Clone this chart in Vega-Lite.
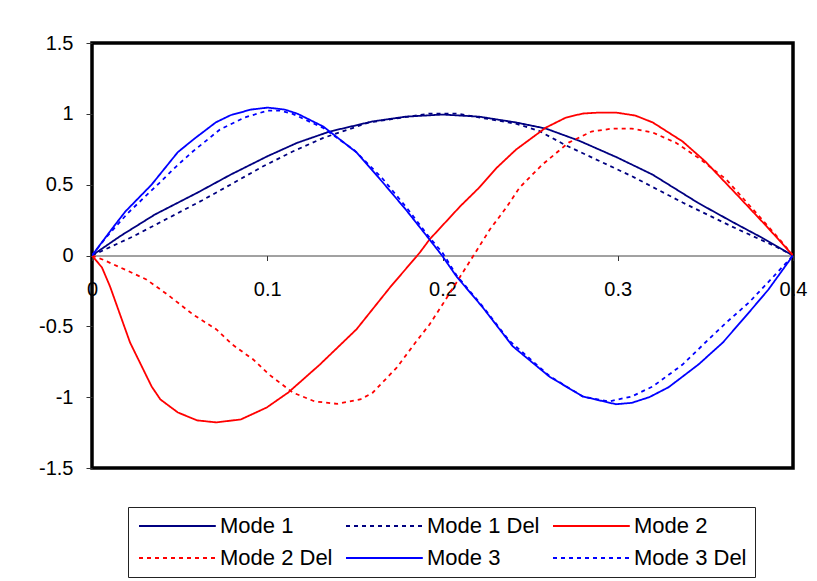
{
  "$schema": "https://vega.github.io/schema/vega-lite/v6.json",
  "autosize": "none",
  "width": 701,
  "height": 425,
  "padding": {"left": 92, "top": 43, "right": 24, "bottom": 113},
  "background": "white",
  "data": {
    "values": [
      {"x": 0, "y": 0, "s": "Mode 1"},
      {"x": 0.0165, "y": 0.14, "s": "Mode 1"},
      {"x": 0.036, "y": 0.29, "s": "Mode 1"},
      {"x": 0.0604, "y": 0.445, "s": "Mode 1"},
      {"x": 0.079, "y": 0.57, "s": "Mode 1"},
      {"x": 0.1, "y": 0.7, "s": "Mode 1"},
      {"x": 0.117, "y": 0.795, "s": "Mode 1"},
      {"x": 0.1356, "y": 0.875, "s": "Mode 1"},
      {"x": 0.16, "y": 0.946, "s": "Mode 1"},
      {"x": 0.179, "y": 0.98, "s": "Mode 1"},
      {"x": 0.2, "y": 0.995, "s": "Mode 1"},
      {"x": 0.221, "y": 0.98, "s": "Mode 1"},
      {"x": 0.242, "y": 0.939, "s": "Mode 1"},
      {"x": 0.259, "y": 0.896, "s": "Mode 1"},
      {"x": 0.278, "y": 0.81, "s": "Mode 1"},
      {"x": 0.3, "y": 0.69, "s": "Mode 1"},
      {"x": 0.32, "y": 0.57, "s": "Mode 1"},
      {"x": 0.346, "y": 0.37, "s": "Mode 1"},
      {"x": 0.365, "y": 0.24, "s": "Mode 1"},
      {"x": 0.381, "y": 0.134, "s": "Mode 1"},
      {"x": 0.4, "y": 0, "s": "Mode 1"},

      {"x": 0, "y": 0, "s": "Mode 1 Del"},
      {"x": 0.011, "y": 0.063, "s": "Mode 1 Del"},
      {"x": 0.0234, "y": 0.134, "s": "Mode 1 Del"},
      {"x": 0.063, "y": 0.39, "s": "Mode 1 Del"},
      {"x": 0.079, "y": 0.5, "s": "Mode 1 Del"},
      {"x": 0.0974, "y": 0.628, "s": "Mode 1 Del"},
      {"x": 0.1145, "y": 0.734, "s": "Mode 1 Del"},
      {"x": 0.132, "y": 0.83, "s": "Mode 1 Del"},
      {"x": 0.158, "y": 0.939, "s": "Mode 1 Del"},
      {"x": 0.1926, "y": 1.002, "s": "Mode 1 Del"},
      {"x": 0.208, "y": 1.002, "s": "Mode 1 Del"},
      {"x": 0.242, "y": 0.93, "s": "Mode 1 Del"},
      {"x": 0.255, "y": 0.88, "s": "Mode 1 Del"},
      {"x": 0.27, "y": 0.78, "s": "Mode 1 Del"},
      {"x": 0.308, "y": 0.56, "s": "Mode 1 Del"},
      {"x": 0.337, "y": 0.374, "s": "Mode 1 Del"},
      {"x": 0.365, "y": 0.205, "s": "Mode 1 Del"},
      {"x": 0.39, "y": 0.064, "s": "Mode 1 Del"},
      {"x": 0.4, "y": 0, "s": "Mode 1 Del"},

      {"x": 0, "y": 0, "s": "Mode 2"},
      {"x": 0.0057, "y": -0.085, "s": "Mode 2"},
      {"x": 0.0103, "y": -0.219, "s": "Mode 2"},
      {"x": 0.0217, "y": -0.614, "s": "Mode 2"},
      {"x": 0.034, "y": -0.924, "s": "Mode 2"},
      {"x": 0.039, "y": -1.016, "s": "Mode 2"},
      {"x": 0.049, "y": -1.108, "s": "Mode 2"},
      {"x": 0.06, "y": -1.164, "s": "Mode 2"},
      {"x": 0.0655, "y": -1.171, "s": "Mode 2"},
      {"x": 0.071, "y": -1.178, "s": "Mode 2"},
      {"x": 0.085, "y": -1.157, "s": "Mode 2"},
      {"x": 0.0997, "y": -1.073, "s": "Mode 2"},
      {"x": 0.112, "y": -0.967, "s": "Mode 2"},
      {"x": 0.13, "y": -0.77, "s": "Mode 2"},
      {"x": 0.151, "y": -0.52, "s": "Mode 2"},
      {"x": 0.17, "y": -0.226, "s": "Mode 2"},
      {"x": 0.187, "y": 0.02, "s": "Mode 2"},
      {"x": 0.1926, "y": 0.113, "s": "Mode 2"},
      {"x": 0.21, "y": 0.346, "s": "Mode 2"},
      {"x": 0.221, "y": 0.48, "s": "Mode 2"},
      {"x": 0.231, "y": 0.62, "s": "Mode 2"},
      {"x": 0.242, "y": 0.748, "s": "Mode 2"},
      {"x": 0.259, "y": 0.903, "s": "Mode 2"},
      {"x": 0.2705, "y": 0.974, "s": "Mode 2"},
      {"x": 0.28, "y": 1.002, "s": "Mode 2"},
      {"x": 0.2895, "y": 1.009, "s": "Mode 2"},
      {"x": 0.299, "y": 1.009, "s": "Mode 2"},
      {"x": 0.31, "y": 0.988, "s": "Mode 2"},
      {"x": 0.32, "y": 0.939, "s": "Mode 2"},
      {"x": 0.337, "y": 0.805, "s": "Mode 2"},
      {"x": 0.35, "y": 0.663, "s": "Mode 2"},
      {"x": 0.369, "y": 0.416, "s": "Mode 2"},
      {"x": 0.385, "y": 0.205, "s": "Mode 2"},
      {"x": 0.4, "y": 0, "s": "Mode 2"},

      {"x": 0, "y": 0, "s": "Mode 2 Del"},
      {"x": 0.006, "y": -0.028, "s": "Mode 2 Del"},
      {"x": 0.02, "y": -0.106, "s": "Mode 2 Del"},
      {"x": 0.031, "y": -0.169, "s": "Mode 2 Del"},
      {"x": 0.043, "y": -0.275, "s": "Mode 2 Del"},
      {"x": 0.0576, "y": -0.416, "s": "Mode 2 Del"},
      {"x": 0.071, "y": -0.522, "s": "Mode 2 Del"},
      {"x": 0.08, "y": -0.628, "s": "Mode 2 Del"},
      {"x": 0.092, "y": -0.734, "s": "Mode 2 Del"},
      {"x": 0.101, "y": -0.84, "s": "Mode 2 Del"},
      {"x": 0.1145, "y": -0.967, "s": "Mode 2 Del"},
      {"x": 0.127, "y": -1.03, "s": "Mode 2 Del"},
      {"x": 0.14, "y": -1.047, "s": "Mode 2 Del"},
      {"x": 0.153, "y": -1.016, "s": "Mode 2 Del"},
      {"x": 0.16, "y": -0.97, "s": "Mode 2 Del"},
      {"x": 0.174, "y": -0.79, "s": "Mode 2 Del"},
      {"x": 0.185, "y": -0.607, "s": "Mode 2 Del"},
      {"x": 0.1926, "y": -0.487, "s": "Mode 2 Del"},
      {"x": 0.2, "y": -0.346, "s": "Mode 2 Del"},
      {"x": 0.208, "y": -0.19, "s": "Mode 2 Del"},
      {"x": 0.217, "y": -0.014, "s": "Mode 2 Del"},
      {"x": 0.227, "y": 0.183, "s": "Mode 2 Del"},
      {"x": 0.2365, "y": 0.34, "s": "Mode 2 Del"},
      {"x": 0.244, "y": 0.48, "s": "Mode 2 Del"},
      {"x": 0.257, "y": 0.642, "s": "Mode 2 Del"},
      {"x": 0.272, "y": 0.797, "s": "Mode 2 Del"},
      {"x": 0.285, "y": 0.875, "s": "Mode 2 Del"},
      {"x": 0.297, "y": 0.896, "s": "Mode 2 Del"},
      {"x": 0.308, "y": 0.896, "s": "Mode 2 Del"},
      {"x": 0.32, "y": 0.868, "s": "Mode 2 Del"},
      {"x": 0.333, "y": 0.797, "s": "Mode 2 Del"},
      {"x": 0.346, "y": 0.69, "s": "Mode 2 Del"},
      {"x": 0.362, "y": 0.536, "s": "Mode 2 Del"},
      {"x": 0.379, "y": 0.3, "s": "Mode 2 Del"},
      {"x": 0.394, "y": 0.09, "s": "Mode 2 Del"},
      {"x": 0.4, "y": 0, "s": "Mode 2 Del"},

      {"x": 0, "y": 0, "s": "Mode 3"},
      {"x": 0.012, "y": 0.198, "s": "Mode 3"},
      {"x": 0.019, "y": 0.31, "s": "Mode 3"},
      {"x": 0.034, "y": 0.5, "s": "Mode 3"},
      {"x": 0.049, "y": 0.73, "s": "Mode 3"},
      {"x": 0.059, "y": 0.83, "s": "Mode 3"},
      {"x": 0.0707, "y": 0.94, "s": "Mode 3"},
      {"x": 0.079, "y": 0.99, "s": "Mode 3"},
      {"x": 0.0906, "y": 1.03, "s": "Mode 3"},
      {"x": 0.1003, "y": 1.044, "s": "Mode 3"},
      {"x": 0.11, "y": 1.03, "s": "Mode 3"},
      {"x": 0.1174, "y": 1.0, "s": "Mode 3"},
      {"x": 0.132, "y": 0.91, "s": "Mode 3"},
      {"x": 0.151, "y": 0.727, "s": "Mode 3"},
      {"x": 0.166, "y": 0.515, "s": "Mode 3"},
      {"x": 0.179, "y": 0.325, "s": "Mode 3"},
      {"x": 0.1926, "y": 0.113, "s": "Mode 3"},
      {"x": 0.2, "y": -0.005, "s": "Mode 3"},
      {"x": 0.208, "y": -0.148, "s": "Mode 3"},
      {"x": 0.223, "y": -0.367, "s": "Mode 3"},
      {"x": 0.24, "y": -0.64, "s": "Mode 3"},
      {"x": 0.261, "y": -0.855, "s": "Mode 3"},
      {"x": 0.28, "y": -0.995, "s": "Mode 3"},
      {"x": 0.299, "y": -1.05, "s": "Mode 3"},
      {"x": 0.308, "y": -1.04, "s": "Mode 3"},
      {"x": 0.318, "y": -1.0, "s": "Mode 3"},
      {"x": 0.329, "y": -0.93, "s": "Mode 3"},
      {"x": 0.346, "y": -0.77, "s": "Mode 3"},
      {"x": 0.36, "y": -0.614, "s": "Mode 3"},
      {"x": 0.375, "y": -0.4, "s": "Mode 3"},
      {"x": 0.386, "y": -0.24, "s": "Mode 3"},
      {"x": 0.4, "y": 0, "s": "Mode 3"},

      {"x": 0, "y": 0, "s": "Mode 3 Del"},
      {"x": 0.008, "y": 0.127, "s": "Mode 3 Del"},
      {"x": 0.0205, "y": 0.3, "s": "Mode 3 Del"},
      {"x": 0.0387, "y": 0.515, "s": "Mode 3 Del"},
      {"x": 0.048, "y": 0.628, "s": "Mode 3 Del"},
      {"x": 0.0575, "y": 0.734, "s": "Mode 3 Del"},
      {"x": 0.073, "y": 0.889, "s": "Mode 3 Del"},
      {"x": 0.087, "y": 0.974, "s": "Mode 3 Del"},
      {"x": 0.1003, "y": 1.023, "s": "Mode 3 Del"},
      {"x": 0.107, "y": 1.023, "s": "Mode 3 Del"},
      {"x": 0.1145, "y": 1.0, "s": "Mode 3 Del"},
      {"x": 0.132, "y": 0.9, "s": "Mode 3 Del"},
      {"x": 0.15, "y": 0.74, "s": "Mode 3 Del"},
      {"x": 0.166, "y": 0.54, "s": "Mode 3 Del"},
      {"x": 0.18, "y": 0.33, "s": "Mode 3 Del"},
      {"x": 0.193, "y": 0.12, "s": "Mode 3 Del"},
      {"x": 0.2, "y": 0.02, "s": "Mode 3 Del"},
      {"x": 0.208, "y": -0.14, "s": "Mode 3 Del"},
      {"x": 0.223, "y": -0.36, "s": "Mode 3 Del"},
      {"x": 0.238, "y": -0.6, "s": "Mode 3 Del"},
      {"x": 0.261, "y": -0.85, "s": "Mode 3 Del"},
      {"x": 0.28, "y": -0.995, "s": "Mode 3 Del"},
      {"x": 0.295, "y": -1.03, "s": "Mode 3 Del"},
      {"x": 0.308, "y": -0.995, "s": "Mode 3 Del"},
      {"x": 0.32, "y": -0.924, "s": "Mode 3 Del"},
      {"x": 0.337, "y": -0.77, "s": "Mode 3 Del"},
      {"x": 0.35, "y": -0.614, "s": "Mode 3 Del"},
      {"x": 0.362, "y": -0.473, "s": "Mode 3 Del"},
      {"x": 0.375, "y": -0.33, "s": "Mode 3 Del"},
      {"x": 0.39, "y": -0.134, "s": "Mode 3 Del"},
      {"x": 0.4, "y": 0, "s": "Mode 3 Del"}
    ]
  },
  "mark": {"type": "line", "strokeWidth": 1.8, "clip": true},
  "encoding": {
    "x": {
      "field": "x", "type": "quantitative",
      "scale": {"domain": [0, 0.4], "nice": false, "zero": false},
      "axis": {
        "title": null, "orient": "bottom", "offset": -212.5,
        "values": [0, 0.1, 0.2, 0.3, 0.4],
        "labelExpr": "'' + datum.value",
        "labelFlush": false, "labelOverlap": false,
        "tickSize": 5, "tickColor": "#333333", "tickWidth": 1,
        "domainColor": "#444444", "domainWidth": 1,
        "labelPadding": 19, "grid": false
      }
    },
    "y": {
      "field": "y", "type": "quantitative",
      "scale": {"domain": [-1.5, 1.5], "nice": false, "zero": false},
      "axis": {
        "title": null,
        "values": [-1.5, -1, -0.5, 0, 0.5, 1, 1.5],
        "labelExpr": "'' + datum.value",
        "domain": false, "tickSize": 6, "tickColor": "#333333", "tickWidth": 1,
        "labelPadding": 13, "grid": false
      }
    },
    "color": {
      "field": "s", "type": "nominal",
      "scale": {
        "domain": ["Mode 1", "Mode 1 Del", "Mode 2", "Mode 2 Del", "Mode 3", "Mode 3 Del"],
        "range": ["#000080", "#000080", "#FF0000", "#FF0000", "#0000FF", "#0000FF"]
      },
      "legend": {
        "title": null, "orient": "none", "legendX": 36, "legendY": 464,
        "direction": "horizontal",
        "columns": 3, "columnPadding": 9, "rowPadding": 10, "padding": 8,
        "strokeColor": "#222222", "fillColor": "white",
        "symbolType": "M-1,0H8.6", "symbolSize": 256, "symbolStrokeWidth": 2,
        "labelFontSize": 22, "labelOffset": 62, "labelFont": "Liberation Sans",
        "labelColor": "black", "symbolLimit": 0
      }
    },
    "strokeDash": {
      "field": "s", "type": "nominal",
      "scale": {
        "domain": ["Mode 1", "Mode 1 Del", "Mode 2", "Mode 2 Del", "Mode 3", "Mode 3 Del"],
        "range": [[1, 0], [4, 4], [1, 0], [4, 4], [1, 0], [4, 4]]
      },
      "legend": {
        "title": null, "orient": "none", "legendX": 36, "legendY": 464,
        "direction": "horizontal",
        "columns": 3, "columnPadding": 9, "rowPadding": 10, "padding": 8,
        "strokeColor": "#222222", "fillColor": "white",
        "symbolType": "M-1,0H8.6", "symbolSize": 256, "symbolStrokeWidth": 2,
        "labelFontSize": 22, "labelOffset": 62, "labelFont": "Liberation Sans",
        "labelColor": "black", "symbolLimit": 0
      }
    }
  },
  "config": {
    "font": "Liberation Sans",
    "view": {"stroke": "black", "strokeWidth": 3.5},
    "axis": {"labelFont": "Liberation Sans", "labelFontSize": 20, "labelColor": "black"}
  }
}
